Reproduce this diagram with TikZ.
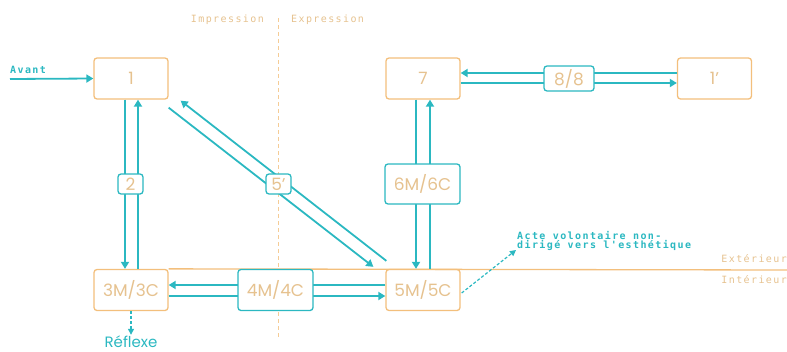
\documentclass[tikz,border=0pt]{standalone}
\usepackage{fontspec}
\setmainfont{Poppins}
\newfontfamily\monof[LetterSpace=14]{DejaVu Sans Mono}
\usetikzlibrary{arrows.meta,calc}
\definecolor{boxor}{HTML}{F3BF7C}
\definecolor{txtor}{HTML}{E6C28F}
\definecolor{tealc}{HTML}{2BB8C1}
\tikzset{
  stbox/.style={draw=boxor,line width=1.3pt,rounded corners=3pt,minimum width=74pt,minimum height=41pt,fill=white,text=txtor,font=\fontsize{17}{17}\selectfont,inner sep=0pt},
  lbbox/.style={draw=tealc,line width=1.3pt,rounded corners=3pt,fill=white,text=txtor,font=\fontsize{17}{17}\selectfont,inner sep=0pt},
  arr/.style={draw=tealc,line width=1.8pt,-{Triangle[length=7pt,width=8pt]}},
  darr/.style={draw=tealc,line width=1.2pt,dashed,dash pattern=on 3pt off 2pt,-{Triangle[length=6pt,width=6pt]}},
  mono/.style={font=\monof\fontsize{10}{9}\selectfont,inner sep=0pt},
}
\begin{document}
\begin{tikzpicture}[x=1pt,y=-1pt]
\useasboundingbox (0,0) rectangle (787,351);
% separators
\draw[boxor!80,line width=1pt,dash pattern=on 4pt off 3pt] (278,18) -- (278,337);
\node[mono,text=txtor,anchor=east] (imp) at (264,20) {Impression};
\node[mono,text=txtor,anchor=west] (exp) at (291,20) {Expression};
% state boxes
\node[stbox] (b1) at (131,78.5) {1};
\node[stbox] (b7) at (423,78.5) {7};
\node[stbox] (b1p) at (714.5,78.5) {1'};
\node[stbox] (b3) at (131,290) {3M/3C};
\node[stbox] (b5) at (423,290) {5M/5C};
% exterior line
\coordinate (extR) at (787,270);
\draw[boxor,line width=1.3pt] (b3.north east) -- (extR);
\node[mono,text=txtor,anchor=east] (ext) at (787,259) {Extérieur};
\node[mono,text=txtor,anchor=east] (int) at (787,280) {Intérieur};
% avant
\coordinate (av) at (10,79);
\node[mono,text=tealc,anchor=south west,font=\monof\fontsize{10}{9}\bfseries\selectfont] (avt) at (10,74) {Avant};
\draw[arr] (av) -- (b1.west);
% 1 <-> 3
\draw[arr] ([xshift=-6pt]b1.south) -- ([xshift=-6pt]b3.north);
\draw[arr] ([xshift=7pt]b3.north) -- ([xshift=7pt]b1.south);
% 1 <-> 5 diagonal
\draw[arr] ($(b1.south east)+(0,8)$) -- ($(b5.north west)+(-12,-2)$);
\draw[arr] ($(b5.north west)+(1,-8)$) -- ($(b1.south east)+(12,1)$);
% 7 <-> 5
\draw[arr] ([xshift=-7pt]b7.south) -- ([xshift=-7pt]b5.north);
\draw[arr] ([xshift=7pt]b5.north) -- ([xshift=7pt]b7.south);
% 7 <-> 1'
\draw[arr] ([yshift=5.5pt]b1p.west) -- ([yshift=5.5pt]b7.east);
\draw[arr] ([yshift=-4.5pt]b7.east) -- ([yshift=-4.5pt]b1p.west);
% 3 <-> 5
\draw[arr] ([yshift=5pt]b5.west) -- ([yshift=5pt]b3.east);
\draw[arr] ([yshift=-6pt]b3.east) -- ([yshift=-6pt]b5.west);
% labels
\node[lbbox,minimum width=25pt,minimum height=20pt] (l2) at (130.5,184) {2};
\node[lbbox,minimum width=25pt,minimum height=20pt] (l5) at (278.5,184) {5'};
\node[lbbox,minimum width=75pt,minimum height=40pt] (l6) at (422.5,184) {6M/6C};
\node[lbbox,minimum width=50pt,minimum height=25pt] (l8) at (569,78.5) {8/8};
\node[lbbox,minimum width=75pt,minimum height=41pt] (l4) at (275.5,290) {4M/4C};
% reflexe
\node[text=tealc,font=\fontsize{15}{15}\selectfont,inner sep=0pt,text depth=0pt,text height=11pt,anchor=base] (ref) at (131,347) {Réflexe};
\draw[darr] (b3.south) -- ([yshift=1pt]ref.north);
% acte
\coordinate (acte) at (516,250);
\node[mono,text=tealc,anchor=south west,align=left,font=\monof\fontsize{10}{9}\bfseries\selectfont] (act) at (517,251) {Acte volontaire non-\\dirigé vers l'esthétique};
\draw[darr] ($(b5.east)+(1,3)$) -- (acte);
\end{tikzpicture}
\end{document}
